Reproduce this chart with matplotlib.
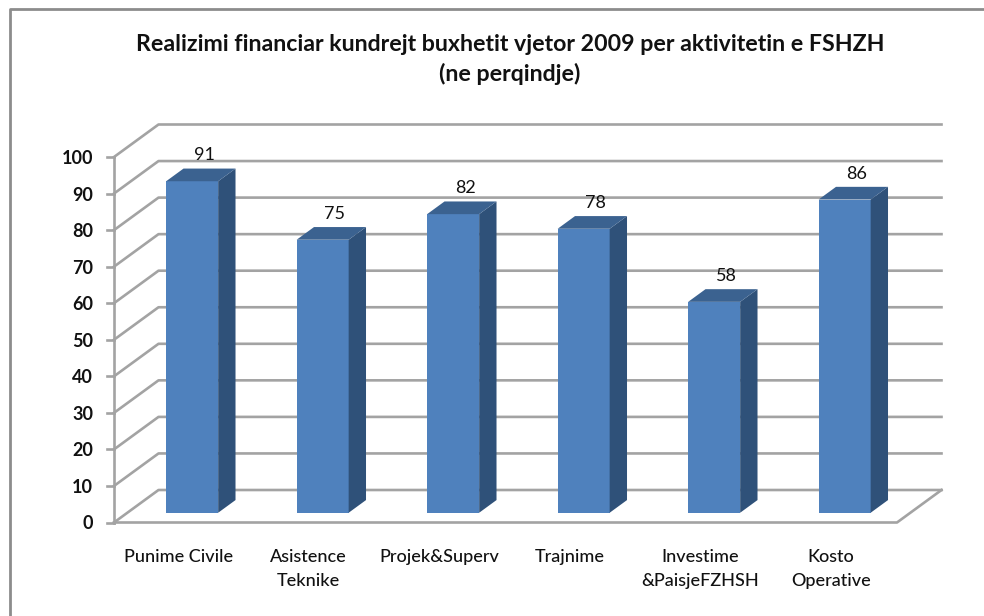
#!/usr/bin/env python3
"""Pseudo-3D column chart: realizimi financiar 2009."""

import matplotlib

matplotlib.use("Agg")
import matplotlib.pyplot as plt
from matplotlib.patches import Polygon

categories = ["Punime Civile", "Asistence\nTeknike", "Projek&Superv", "Trajnime",
              "Investime\n&PaisjeFZHSH", "Kosto\nOperative"]
values = [91, 75, 82, 78, 58, 86]
y_ticks = [0, 10, 20, 30, 40, 50, 60, 70, 80, 90, 100]
title = "Realizimi financiar kundrejt buxhetit vjetor 2009 per aktivitetin e FSHZH\n(ne perqindje)"

W, H = 984, 616
GRID = "#a3a3a3"
FRONT = "#4f81bd"
TOP = "#3b6290"
SIDE = "#2f5179"

plt.rcParams["font.family"] = ["Lato", "DejaVu Sans"]

fig = plt.figure(figsize=(W / 100, H / 100), dpi=100, facecolor="white")

# frame of the chart object, runs off the right and bottom edge of the image
fig.add_artist(plt.Line2D([10 / W, 10 / W, 1], [0, 1 - 9 / H, 1 - 9 / H], color="#8c8c8c", lw=2))

# axes = the front plane of the 3D box (114..897 px, value 0 at 522.5, 100 at 157)
ax = fig.add_axes([114 / W, 1 - 522.5 / H, 783 / W, 365.5 / H])
ax.set_xlim(0, len(categories))
ax.set_ylim(0, 100)
ax.axis("off")

# depth of the box in data units
dx = 44.5 / 130.5
dy = 32.5 / 3.655
n = len(categories)

for v in y_ticks:
    ax.plot([0, dx, n + dx], [v, v + dy, v + dy], color=GRID, lw=1.9, clip_on=False, zorder=1)
    ax.plot([-7 / 130.5, 0], [v, v], color=GRID, lw=1.9, clip_on=False, zorder=1)
    ax.text(-21 / 130.5, v - 0.4, str(v), ha="right", va="center", fontsize=13,
            fontweight="bold", color="#111111")
ax.plot([0, 0], [0, 100], color=GRID, lw=1.9, clip_on=False, zorder=1)
ax.plot([0, n, n + dx], [0, 0, dy], color=GRID, lw=1.9, clip_on=False, zorder=1)

# bars sit in the middle of the floor depth
bar_w = 52 / 130.5
bx = dx * 0.29
by = dy * 0.3
depth_x = dx * 0.39
depth_y = dy * 0.39

for i, v in enumerate(values):
    left = i + 0.5 - bar_w / 2 + bx
    right = left + bar_w
    top = by + v - 0.3
    ax.add_patch(Polygon([(left, by), (right, by), (right, top), (left, top)],
                         fc=FRONT, ec="none", clip_on=False, zorder=3))
    ax.add_patch(Polygon([(right, by), (right + depth_x, by + depth_y),
                          (right + depth_x, top + depth_y), (right, top)],
                         fc=SIDE, ec="none", clip_on=False, zorder=3))
    ax.add_patch(Polygon([(left, top), (right, top),
                          (right + depth_x, top + depth_y), (left + depth_x, top + depth_y)],
                         fc=TOP, ec="none", clip_on=False, zorder=3))
    ax.text(left + bar_w / 2 + 12 / 130.5, top + depth_y + 3.6, str(v), ha="center", va="center",
            fontsize=13, color="#111111", zorder=4)
    ax.text(i + 0.5 - 1 / 130.5, -7.3, categories[i], ha="center", va="top", fontsize=13,
            color="#111111", linespacing=1.6, fontweight="medium")

fig.text(510 / W, 1 - 59.5 / H, title, ha="center", va="center", fontsize=16.7,
         fontweight="bold", color="#111111", linespacing=1.42)

fig.savefig("out.png", dpi=100, facecolor="white")
